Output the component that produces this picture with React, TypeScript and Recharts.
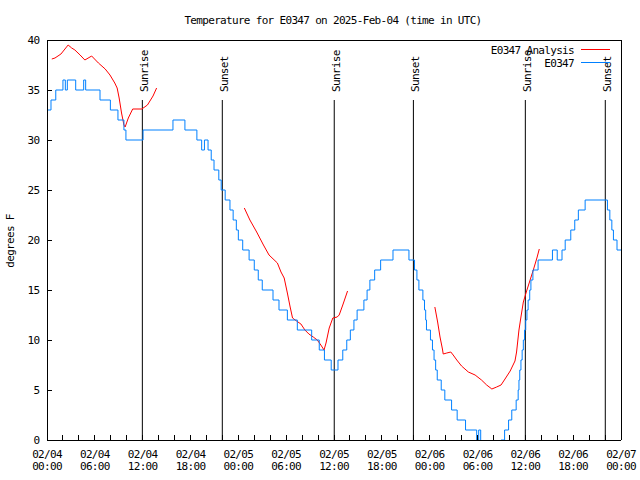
import React from "react";
import { LineChart, Line, XAxis, YAxis, ReferenceLine, Legend } from "recharts";

const FONT = "'DejaVu Sans Mono', 'Liberation Mono', monospace";
const TXT: React.CSSProperties = { fontFamily: FONT, fontSize: 11, letterSpacing: -0.68, fill: "#000" };

// hours since 2025-02-04 00:00 UTC; observed temps (F), each value holds until the next point
const obsHours = [
  0.1, 0.5, 1.1, 2.0, 2.3, 2.55, 3.6, 4.6, 4.85, 6.65, 7.95, 8.9, 9.65, 9.9, 12.05,
  15.8, 17.3, 18.8, 19.4, 19.75, 20.2, 20.6, 20.95, 21.55, 21.85, 22.35, 22.95, 23.35,
  23.55, 23.75, 24.0, 24.55, 25.35, 26.0, 26.5, 27.0, 28.35, 29.1, 30.15, 31.4, 33.2,
  34.15, 34.8, 35.65, 36.5, 37.1, 37.6, 38.05, 38.5, 38.9, 39.75, 40.15, 40.5, 41.1,
  41.85, 43.4, 45.4, 46.1, 46.4, 46.65, 47.15, 47.35, 47.5, 47.6, 48.1, 48.35, 48.55,
  48.75, 48.95, 49.45, 49.9, 50.75, 51.45, 52.5, 53.9, 54.15, 54.4, 56.95, 57.4, 57.9,
  58.3, 58.85, 59.1, 59.2, 59.3, 59.45, 59.6, 59.75, 59.9, 60.05, 60.2, 60.35, 60.55,
  60.7, 60.95, 61.6, 63.4, 64.0, 64.6, 65.0, 65.7, 66.2, 66.65, 67.5, 70.3, 70.6,
  70.85, 71.05, 71.5, 72,
];
const obsTemps = [
  33, 34, 35, 36, 35, 36, 35, 36, 35, 34, 33, 32, 31, 30, 31,
  32, 31, 30, 29, 30, 29, 28, 27, 26, 25, 24, 23, 22,
  22, 21, 20, 19, 18, 17, 16, 15, 14, 13, 12, 11, 10,
  9, 8, 7, 8, 9, 10, 11, 12, 13, 14, 15, 16, 17,
  18, 19, 18, 17, 16, 15, 14, 13, 12, 11, 10, 9, 8,
  7, 6, 5, 4, 3, 2, 1, 0, 1, -2, 0, 1, 2,
  3, 4, 5, 6, 7, 8, 9, 10, 11, 12, 13, 14, 15,
  16, 17, 18, 19, 18, 19, 20, 21, 22, 23, 24, 23, 22,
  21, 20, 19, 19,
];

// analysis runs, null breaks the line between runs
const anaHours = [
  0.6, 1.0, 1.75, 2.65, 3.1, 3.5, 4.15, 4.75, 5.6, 6.45, 7.3, 7.9, 8.5, 8.8, 9.05, 9.35,
  9.65, 9.8, 10.2, 10.75, 11.9, 12.6, 13.3, 13.75,
  19,
  24.75, 25.45, 26.3, 27.15, 27.85, 28.9, 29.35, 29.75, 30.15, 30.5, 30.8, 31.3, 31.85,
  32.35, 32.85, 33.4, 33.9, 34.35, 34.75, 35.0, 35.4, 35.85, 36.4, 36.65, 37.1, 37.7,
  43,
  48.65, 49.0, 49.3, 49.6, 49.7, 50.15, 50.65, 50.95, 51.4, 52.0, 52.85, 53.7, 54.5,
  55.15, 55.8, 56.4, 56.95, 57.45, 58.1, 58.7, 58.9, 59.2, 59.45, 59.75, 60.2, 60.6,
  61.0, 61.45, 61.75,
];
const anaTemps = [
  38.1, 38.2, 38.6, 39.5, 39.2, 39.0, 38.5, 38.0, 38.4, 37.7, 37.1, 36.5, 35.7, 35.2, 34.2, 32.7,
  31.5, 31.3, 32.2, 33.1, 33.1, 33.5, 34.4, 35.2,
  null,
  23.2, 22.0, 20.8, 19.5, 18.5, 17.7, 16.8, 16.2, 14.7, 13.3, 12.2, 11.9, 11.6,
  11.0, 10.6, 10.3, 10.0, 9.5, 9.0, 9.7, 11.2, 12.2, 12.3, 12.5, 13.5, 14.9,
  null,
  13.3, 11.8, 10.3, 9.1, 8.6, 8.7, 8.8, 8.5, 8.0, 7.4, 6.8, 6.5, 6.0,
  5.5, 5.1, 5.3, 5.5, 6.1, 6.9, 7.9, 8.8, 11.0, 12.3, 13.8, 15.0, 16.0,
  17.0, 18.2, 19.1,
];

const sunHours = [11.96, 21.99, 36.03, 45.96, 60.0, 70.03];
const sunNames = ["Sunrise", "Sunset", "Sunrise", "Sunset", "Sunrise", "Sunset"];

const xTicks = [0, 2, 4, 6, 8, 10, 12, 14, 16, 18, 20, 22, 24, 26, 28, 30, 32, 34, 36, 38, 40, 42, 44, 46, 48, 50, 52, 54, 56, 58, 60, 62, 64, 66, 68, 70, 72];
const xLabelHours = [0, 6, 12, 18, 24, 30, 36, 42, 48, 54, 60, 66, 72];
const xLabelDates = ["02/04", "02/04", "02/04", "02/04", "02/05", "02/05", "02/05", "02/05", "02/06", "02/06", "02/06", "02/06", "02/07"];
const xLabelTimes = ["00:00", "06:00", "12:00", "18:00", "00:00", "06:00", "12:00", "18:00", "00:00", "06:00", "12:00", "18:00", "00:00"];
const yTicks = [0, 5, 10, 15, 20, 25, 30, 35, 40];

const RED = "#ff0000";
const BLUE = "#0080ff";

const obsData = obsHours.map((t, i) => ({ t, v: obsTemps[i] }));
const anaData = anaHours.map((t, i) => ({ t, v: anaTemps[i] }));

const crisp = { shapeRendering: "crispEdges" as const };
const axisLine = { stroke: "#000", ...crisp };

function BottomTick(props: any) {
  const { x, y, payload } = props;
  const i = xLabelHours.indexOf(payload.value);
  return (
    <g>
      <line x1={x} x2={x} y1={y} y2={y - 5} stroke="#000" {...crisp} />
      {i >= 0 && (
        <>
          <text x={x} y={y + 18} textAnchor="middle" style={TXT}>{xLabelDates[i]}</text>
          <text x={x} y={y + 30} textAnchor="middle" style={TXT}>{xLabelTimes[i]}</text>
        </>
      )}
    </g>
  );
}

function TopTick(props: any) {
  const { x, y } = props;
  return <line x1={x} x2={x} y1={y} y2={y + 5} stroke="#000" {...crisp} />;
}

function LeftTick(props: any) {
  const { x, y, payload } = props;
  return (
    <g>
      <line x1={x} x2={x + 5} y1={y} y2={y} stroke="#000" {...crisp} />
      <text x={x - 7.5} y={y + 4} textAnchor="end" style={TXT}>{payload.value}</text>
    </g>
  );
}

function RightTick(props: any) {
  const { x, y } = props;
  return <line x1={x} x2={x - 5} y1={y} y2={y} stroke="#000" {...crisp} />;
}

// label sits above the top end of the sun line, reading upward
const sunLabel = (name: string) => (props: any) => {
  const vb = props.viewBox || {};
  const x = vb.x + 5.3;
  return (
    <text transform={`translate(${x},92) rotate(-90)`} textAnchor="start" style={TXT}>
      {name}
    </text>
  );
};

function LegendBox() {
  return (
    <svg width={640} height={80} style={{ display: "block" }}>
      <text x={574} y={54} textAnchor="end" style={TXT}>E0347 Analysis</text>
      <line x1={581} x2={610} y1={49.5} y2={49.5} stroke={RED} />
      <text x={574} y={67} textAnchor="end" style={TXT}>E0347</text>
      <line x1={581} x2={610} y1={62.5} y2={62.5} stroke={BLUE} />
    </svg>
  );
}

export default function App() {
  return (
    <div style={{ position: "absolute", left: 0, top: 0, width: 640, height: 480, background: "#fff" }}>
      <LineChart width={640} height={480} margin={{ top: 30, right: 9, bottom: 0, left: 7 }}>
        <XAxis
          dataKey="t"
          type="number"
          domain={[0, 72]}
          ticks={xTicks}
          interval={0}
          height={40}
          tickSize={0}
          tickMargin={0}
          tickLine={false}
          axisLine={axisLine}
          tick={<BottomTick />}
        />
        <XAxis
          xAxisId="top"
          orientation="top"
          type="number"
          domain={[0, 72]}
          ticks={xTicks}
          interval={0}
          height={10}
          tickSize={0}
          tickMargin={0}
          tickLine={false}
          axisLine={axisLine}
          tick={<TopTick />}
          label={{
            content: () => (
              <text x={333} y={24} textAnchor="middle" style={TXT}>
                Temperature for E0347 on 2025-Feb-04 (time in UTC)
              </text>
            ),
          }}
        />
        <YAxis
          type="number"
          domain={[0, 40]}
          allowDataOverflow
          ticks={yTicks}
          interval={0}
          width={40}
          tickSize={0}
          tickMargin={0}
          tickLine={false}
          axisLine={axisLine}
          tick={<LeftTick />}
          label={{
            content: () => (
              <text transform="translate(14,241) rotate(-90)" textAnchor="middle" style={TXT}>
                degrees F
              </text>
            ),
          }}
        />
        <YAxis
          yAxisId="r"
          orientation="right"
          type="number"
          domain={[0, 40]}
          ticks={yTicks}
          interval={0}
          width={10}
          tickSize={0}
          tickMargin={0}
          tickLine={false}
          axisLine={axisLine}
          tick={<RightTick />}
        />
        {sunHours.map((h, i) => (
          <ReferenceLine
            key={i}
            segment={[{ x: h, y: 0 }, { x: h, y: 34 }]}
            stroke="#000"
            strokeWidth={1}
            label={{ content: sunLabel(sunNames[i]) }}
          />
        ))}
        <Line
          data={anaData}
          dataKey="v"
          name="E0347 Analysis"
          type="linear"
          stroke={RED}
          strokeWidth={1}
          dot={false}
          activeDot={false}
          connectNulls={false}
          isAnimationActive={false}
        />
        <Line
          data={obsData}
          dataKey="v"
          name="E0347"
          type="stepAfter"
          stroke={BLUE}
          strokeWidth={1}
          dot={false}
          activeDot={false}
          isAnimationActive={false}
        />
        <Legend
          layout="horizontal"
          verticalAlign="middle"
          align="center"
          wrapperStyle={{ left: 0, top: 0, width: 640, height: 80, pointerEvents: "none" }}
          content={() => <LegendBox />}
        />
      </LineChart>
    </div>
  );
}
